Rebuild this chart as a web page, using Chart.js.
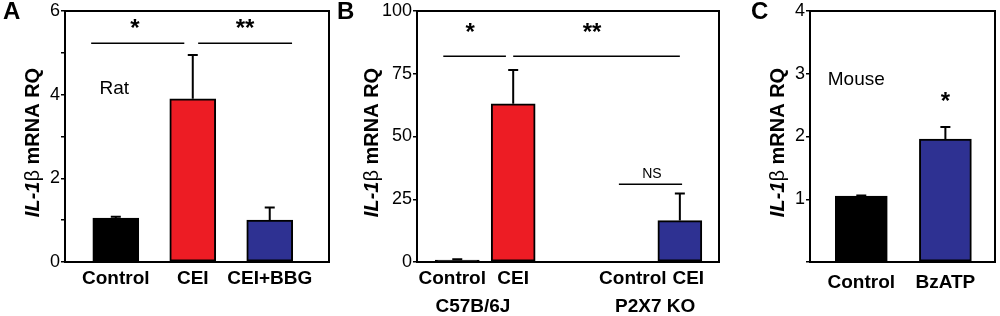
<!DOCTYPE html>
<html lang="en">
<head>
<meta charset="UTF-8" />
<title>IL-1β mRNA RQ</title>
<script src="https://cdn.jsdelivr.net/npm/chart.js"></script>
<style>
  body { margin: 0; background: #fff; }
  #fig { position: relative; width: 1000px; height: 316px; overflow: hidden; font-family: "Liberation Sans", Arial, sans-serif; }
  .painel { position: absolute; top: 0; }
  .letra { position: absolute; top: -3px; font-weight: bold; font-size: 24px; color: #000; }
</style>
</head>
<body>
<div id="fig">
  <canvas class="painel" id="grafA" width="335" height="316" style="left:0"></canvas>
  <canvas class="painel" id="grafB" width="400" height="316" style="left:335px"></canvas>
  <canvas class="painel" id="grafC" width="265" height="316" style="left:735px"></canvas>
  <div class="letra" style="left:3px">A</div>
  <div class="letra" style="left:337px">B</div>
  <div class="letra" style="left:751px">C</div>
</div>

<script>
// ---- dados ----
// painel A - rato
const catA = ['Control', 'CEI', 'CEI+BBG'];
const mediaA = [1.05, 3.9, 1.0];
const erroA = [0.03, 1.05, 0.3];
const ticksA = [0, 2, 4, 6];

// painel B - camundongo C57B/6J vs P2X7 KO
const catB = ['Control', 'CEI', 'Control', 'CEI'];
const gruposB = ['C57B/6J', 'P2X7 KO'];
const mediaB = [0.8, 63, 0.2, 16.5];
const erroB = [0.3, 13.5, 0, 10.8];
const ticksB = [0, 25, 50, 75, 100];

// painel C - camundongo
const catC = ['Control', 'BzATP'];
const mediaC = [1.05, 1.96];
const erroC = [0.01, 0.19];
const ticksC = [1, 2, 3, 4];

// ---- cores / fontes ----
const PRETO = '#000000';
const VERMELHO = '#ED1C24';
const AZUL = '#2E3192';
const FONTE = '"Liberation Sans", Arial, sans-serif';

// plugin: moldura, barras de erro, linhas de significancia, textos, titulo do eixo y
const extras = {
  id: 'extras',
  afterDatasetsDraw(chart, args, opts) {
    const ctx = chart.ctx;
    const area = chart.chartArea;
    const xs = chart.scales.x;
    const ys = chart.scales.y;
    const meta = chart.getDatasetMeta(0);
    const medias = chart.data.datasets[0].data.map(p => p.y);

    ctx.save();
    ctx.strokeStyle = PRETO;
    ctx.fillStyle = PRETO;

    // barras de erro (so para cima)
    ctx.lineWidth = 2;
    opts.erros.forEach((e, i) => {
      if (!e) return;
      const bar = meta.data[i];
      const yTopo = ys.getPixelForValue(medias[i] + e);
      ctx.beginPath();
      ctx.moveTo(bar.x, bar.y);
      ctx.lineTo(bar.x, yTopo);
      ctx.moveTo(bar.x - 5, yTopo);
      ctx.lineTo(bar.x + 5, yTopo);
      ctx.stroke();
    });

    // linhas de significancia
    ctx.lineWidth = 1.5;
    (opts.linhas || []).forEach(l => {
      const y = ys.getPixelForValue(l.y);
      ctx.beginPath();
      ctx.moveTo(xs.getPixelForValue(l.x1), y);
      ctx.lineTo(xs.getPixelForValue(l.x2), y);
      ctx.stroke();
    });

    // textos dentro do grafico
    ctx.textAlign = 'center';
    ctx.textBaseline = 'middle';
    (opts.textos || []).forEach(t => {
      ctx.font = t.fonte;
      ctx.fillText(t.txt, xs.getPixelForValue(t.x), ys.getPixelForValue(t.y));
    });

    // textos abaixo do eixo x (grupos)
    (opts.grupos || []).forEach(g => {
      ctx.font = 'bold 19px ' + FONTE;
      ctx.fillText(g.txt, xs.getPixelForValue(g.x), area.bottom + g.dy);
    });

    // moldura
    ctx.lineWidth = 2;
    ctx.strokeRect(area.left, area.top, area.right - area.left, area.bottom - area.top);

    // titulo do eixo y: "IL-1" italico + "β" + " mRNA RQ"
    const partes = [
      ['IL-1', 'italic bold 20px ' + FONTE],
      ['β', '20px ' + FONTE],
      [' mRNA RQ', 'bold 20px ' + FONTE]
    ];
    let total = 0;
    partes.forEach(p => { ctx.font = p[1]; total += ctx.measureText(p[0]).width; });
    ctx.translate(opts.tituloX, (area.top + area.bottom) / 2 + 6);
    ctx.rotate(-Math.PI / 2);
    ctx.textAlign = 'left';
    let pos = -total / 2;
    partes.forEach(p => {
      ctx.font = p[1];
      ctx.fillText(p[0], pos, 0);
      pos += ctx.measureText(p[0]).width;
    });
    ctx.restore();
  }
};

function montaGrafico(id, cats, medias, cores, cfg) {
  new Chart(document.getElementById(id), {
    type: 'bar',
    data: {
      datasets: [{
        data: medias.map((v, i) => ({ x: cfg.slots[i], y: v })),
        backgroundColor: cores,
        borderColor: PRETO,
        borderWidth: 2,
        borderSkipped: false,
        barThickness: cfg.larguraBarra
      }]
    },
    options: {
      responsive: false,
      animation: false,
      layout: { padding: { left: 0, right: cfg.padDir, top: 11, bottom: 0 } },
      scales: {
        x: {
          type: 'linear',
          offset: false,
          min: 0,
          max: cfg.xMax,
          grid: { display: false, drawTicks: false },
          border: { display: false },
          afterBuildTicks: s => { s.ticks = cfg.posRotulos.map(v => ({ value: v })); },
          afterFit: s => { s.height = 316 - 262; },
          ticks: {
            autoSkip: false,
            maxRotation: 0,
            padding: cfg.padLabel,
            color: PRETO,
            font: { family: FONTE, size: 19, weight: 'bold' },
            callback: (v, i) => cats[i]
          }
        },
        y: {
          min: cfg.yMin,
          max: cfg.yMax,
          grid: { drawOnChartArea: false, tickLength: 4, color: PRETO, lineWidth: 1.5 },
          border: { display: false },
          afterFit: s => { s.width = cfg.esq; },
          afterBuildTicks: s => { s.ticks = cfg.marcas.map(v => ({ value: v })); },
          ticks: {
            padding: 1,
            color: PRETO,
            font: { family: FONTE, size: 18, lineHeight: 1 },
            callback: v => (cfg.rotulos.includes(v) ? String(v) : '')
          }
        }
      },
      plugins: {
        legend: { display: false },
        tooltip: { enabled: false },
        extras: cfg.extras
      }
    },
    plugins: [extras]
  });
}

// painel A
montaGrafico('grafA', catA, mediaA, [PRETO, VERMELHO, AZUL], {
  slots: [0.66, 1.66, 2.66], posRotulos: [0.66, 1.66, 2.66], xMax: 3.43, larguraBarra: 46,
  padDir: 6, esq: 65, padLabel: 5,
  yMin: 0, yMax: 6, marcas: [0, 1, 2, 3, 4, 5, 6], rotulos: ticksA,
  extras: {
    erros: erroA, tituloX: 33,
    linhas: [{ x1: 0.34, x2: 1.55, y: 5.23 }, { x1: 1.73, x2: 2.95, y: 5.23 }],
    textos: [
      { txt: '*', x: 0.91, y: 5.55, fonte: 'bold 24px ' + FONTE },
      { txt: '**', x: 2.34, y: 5.55, fonte: 'bold 24px ' + FONTE },
      { txt: 'Rat', x: 0.64, y: 4.15, fonte: '19px ' + FONTE }
    ]
  }
});

// painel B
montaGrafico('grafB', catB, mediaB, [PRETO, VERMELHO, PRETO, AZUL], {
  slots: [0.72, 1.72, 3.72, 4.7], posRotulos: [0.63, 1.72, 3.86, 4.85], xMax: 5.4, larguraBarra: 44,
  padDir: 16, esq: 82, padLabel: 5,
  yMin: 0, yMax: 100, marcas: ticksB, rotulos: ticksB,
  extras: {
    erros: erroB, tituloX: 37,
    linhas: [{ x1: 0.47, x2: 1.59, y: 82 }, { x1: 1.72, x2: 4.7, y: 82 }, { x1: 3.61, x2: 4.74, y: 31 }],
    textos: [
      { txt: '*', x: 0.95, y: 91, fonte: 'bold 24px ' + FONTE },
      { txt: '**', x: 3.13, y: 91, fonte: 'bold 24px ' + FONTE },
      { txt: 'NS', x: 4.2, y: 35, fonte: '14px ' + FONTE }
    ],
    grupos: [{ txt: gruposB[0], x: 1.0, dy: 45 }, { txt: gruposB[1], x: 4.26, dy: 45 }]
  }
});

// painel C
montaGrafico('grafC', catC, mediaC, [PRETO, AZUL], {
  slots: [0.61, 1.61], posRotulos: [0.61, 1.61], xMax: 2.2, larguraBarra: 52,
  padDir: 5, esq: 75, padLabel: 9,
  yMin: 0, yMax: 4, marcas: [0, 1, 2, 3, 4], rotulos: ticksC,
  extras: {
    erros: erroC, tituloX: 43,
    textos: [
      { txt: '*', x: 1.61, y: 2.55, fonte: 'bold 24px ' + FONTE },
      { txt: 'Mouse', x: 0.55, y: 2.9, fonte: '19px ' + FONTE }
    ]
  }
});
</script>
</body>
</html>
